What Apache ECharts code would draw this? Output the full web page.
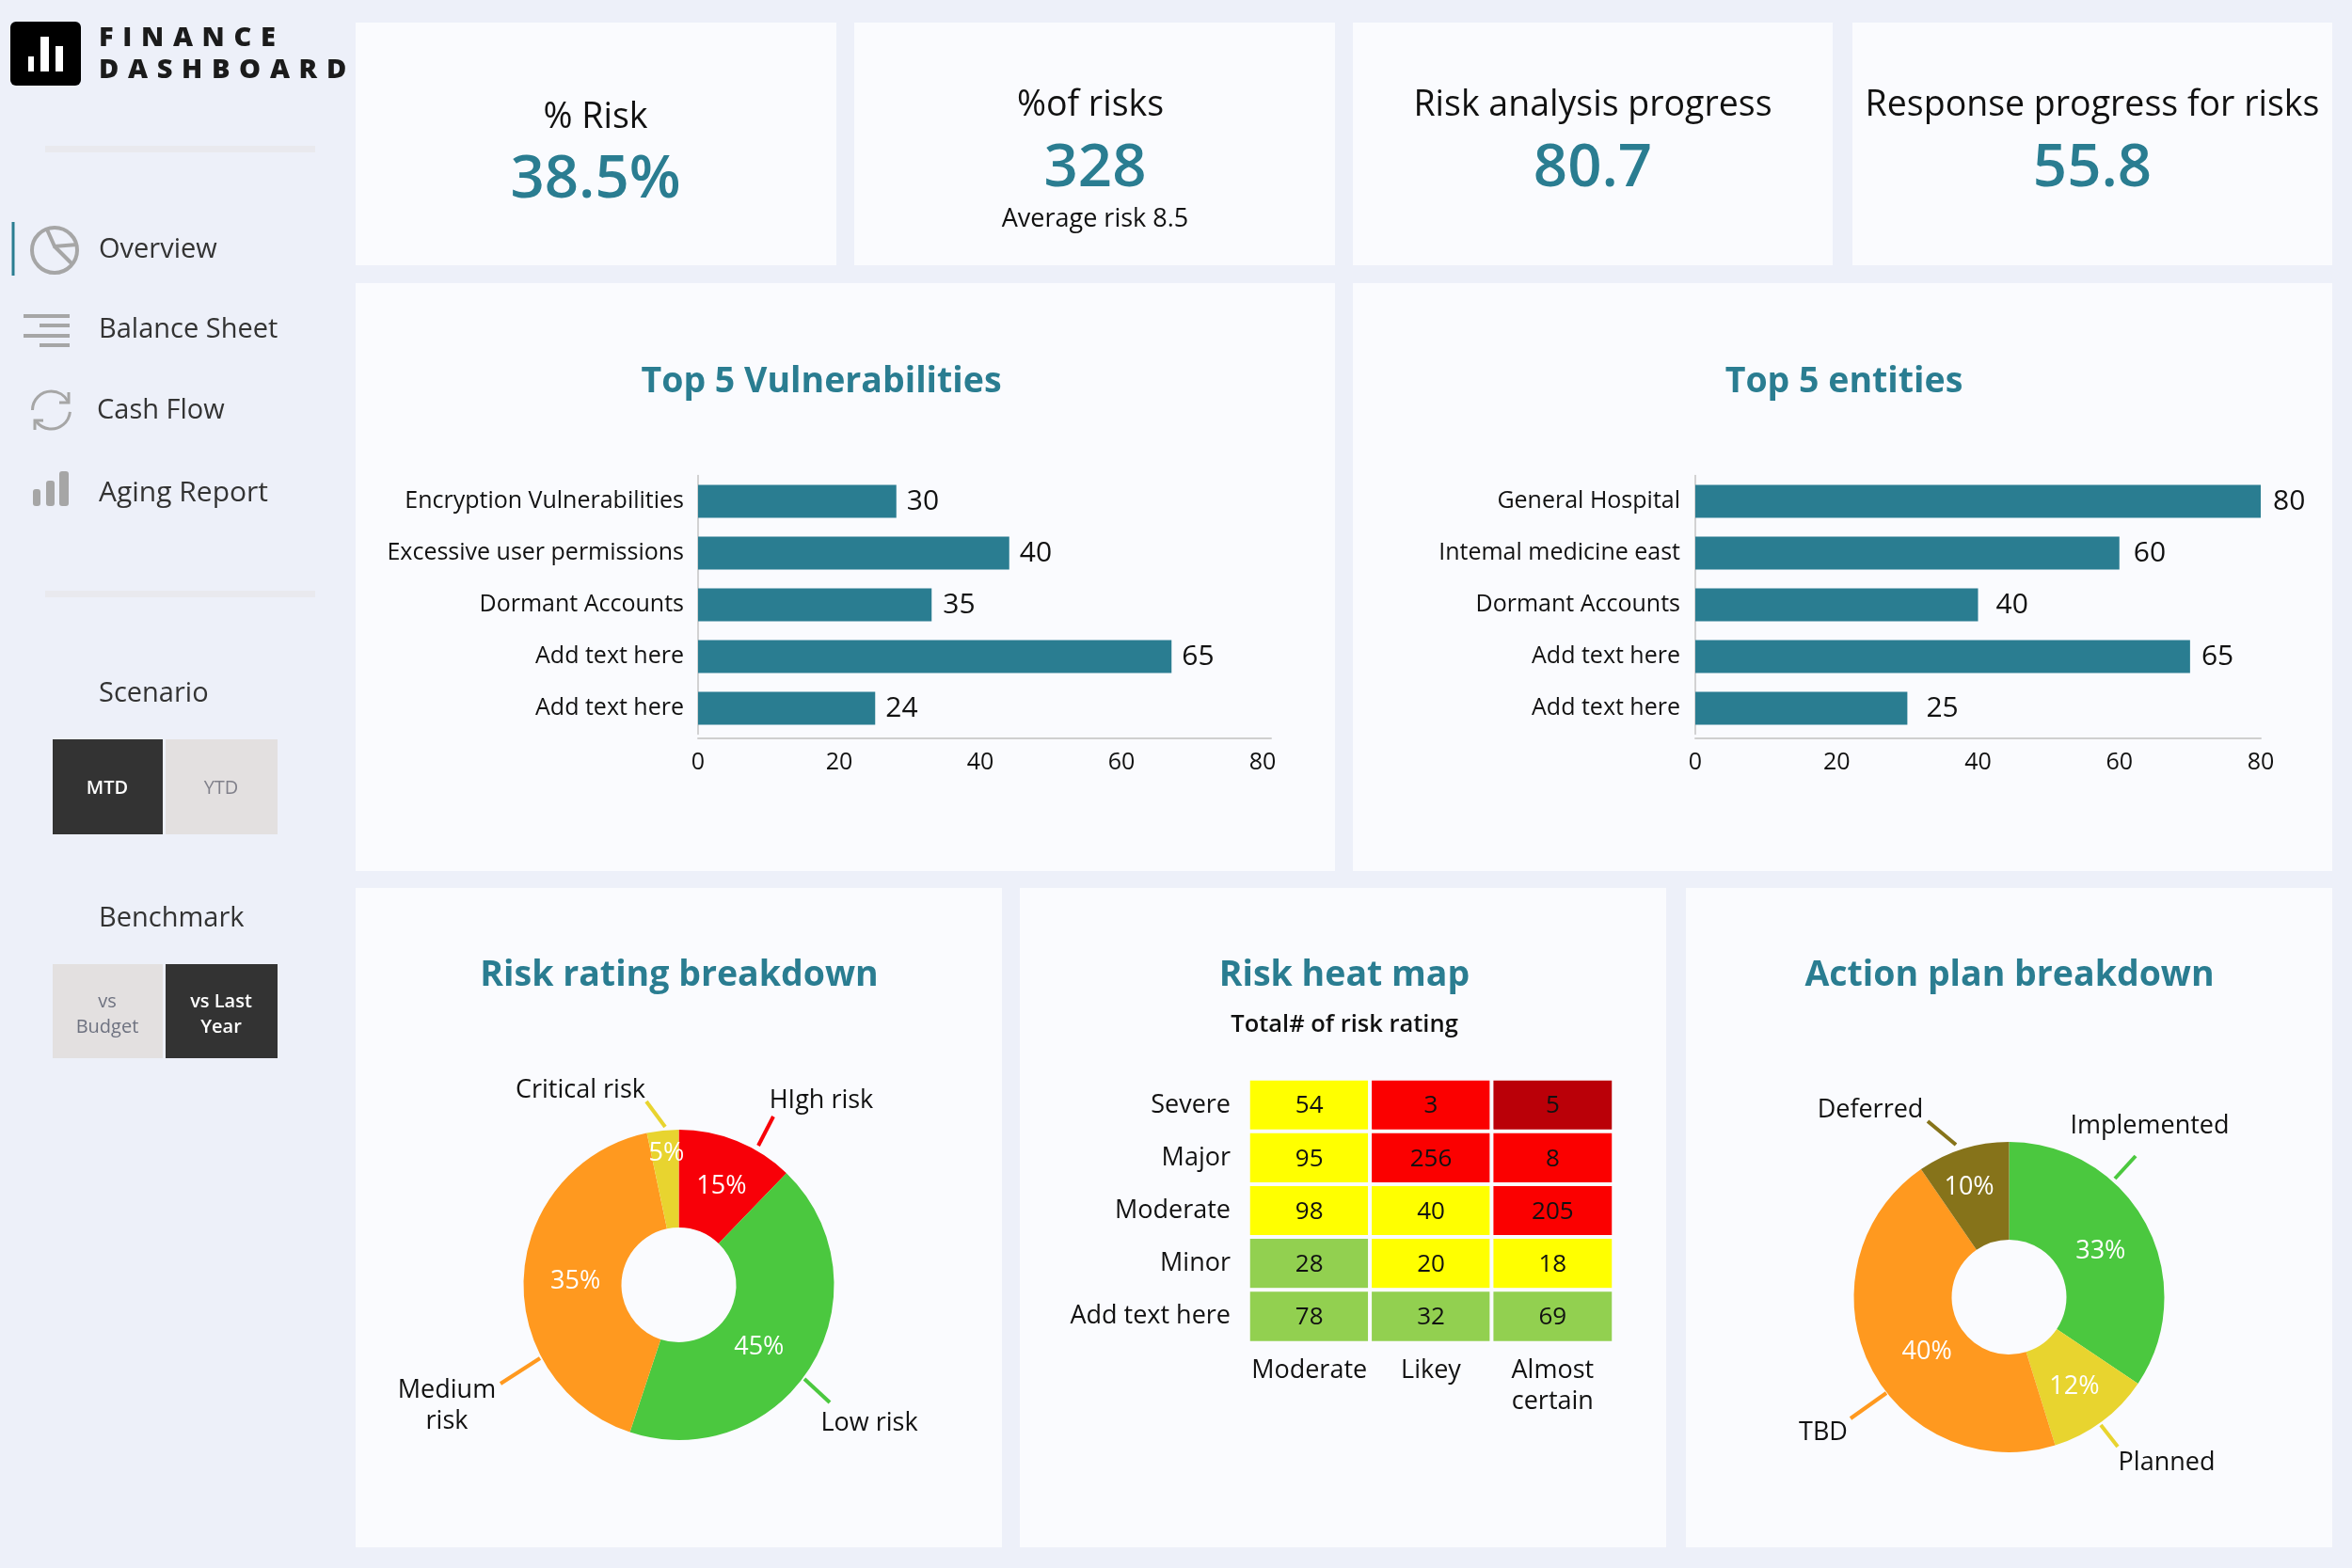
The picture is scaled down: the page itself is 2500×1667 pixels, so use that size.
<!DOCTYPE html>
<html><head><meta charset="utf-8"><title>Finance Dashboard</title>
<style>html,body{margin:0;padding:0;background:#EDF0F9}#c{width:2500px;height:1667px}</style>
<script src="https://cdn.jsdelivr.net/npm/echarts@6/dist/echarts.min.js"></script>
</head><body><div id="c"></div>
<script>
// ---- data ----
const vulnCategories = ['Encryption Vulnerabilities','Excessive user permissions','Dormant Accounts','Add text here','Add text here'];
const vulnBarLengths = [28.1,44.1,33.1,67.1,25.1];
const vulnLabels = [30,40,35,65,24];
const entityCategories = ['General Hospital','Intemal medicine east','Dormant Accounts','Add text here','Add text here'];
const entityBarLengths = [80,60,40,70,30];
const entityLabels = [80,60,40,65,25];
const axisTicks = [0,20,40,60,80];

const riskNames = ['HIgh risk','Low risk','Medium\nrisk','Critical risk'];
const riskShares = [12.2,42.9,41.6,3.3];
const riskLabels = ['15%','45%','35%','5%'];
const actionNames = ['Implemented','Planned','TBD','Deferred'];
const actionShares = [34.4,10.8,45.2,9.6];
const actionLabels = ['33%','12%','40%','10%'];

const heatImpact = ['Severe','Major','Moderate','Minor','Add text here'];
const heatLikelihood = ['Moderate','Likey','Almost\ncertain'];
const heatValues = [[54,3,5],[95,256,8],[98,40,205],[28,20,18],[78,32,69]];
const heatRatings = [[1,2,3],[1,2,2],[1,1,2],[0,1,1],[0,0,0]];

const kpiTitles = ['% Risk','%of risks','Risk analysis progress','Response progress for risks'];
const kpiValues = ['38.5%','328','80.7','55.8'];
const kpiNote = 'Average risk 8.5';
const menuItems = ['Overview','Balance Sheet','Cash Flow','Aging Report'];

// ---- style and layout ----
const FONT = '"Open Sans"', TEAL = '#2A7D91', PANEL = '#FAFBFE', INK = '#111111', SIDE = '#333333', ICON = '#A6A6A6';
const ratingColors = ['#92D050','#FFFF00','#FB0000','#BA0008'];
const riskColors = ['#F80008','#4BC83F','#FF991F','#E8D42F'];
const actionColors = ['#4BC83F','#E8D42F','#FF991F','#86731A'];
const panels = [[378,24,511,258],[908,24,511,258],[1438,24,510,258],[1969,24,510,258],
  [378,301,1041,625],[1438,301,1041,625],[378,944,687,701],[1084,944,687,701],[1792,944,687,701]];
const riskLabelSpots = [[873,1170],[924,1513],[475,1495],[617,1159]];
const riskLeaders = [[[806,1218],[822,1187]],[[855,1466],[882,1491]],[[574,1444],[532,1471]],[[707,1198],[687,1171]]];
const riskPctOffsets = [[2,3],[-14,6],[6,3],[-1,-24]];
const actionLabelSpots = [[2285,1197],[2303,1555],[1938,1523],[1988,1180]];
const actionLeaders = [[[2248,1253],[2270,1229]],[[2233,1515],[2251,1538]],[[2005,1481],[1967,1508]],[[2079,1217],[2049,1192]]];
const actionPctOffsets = [[-5,6],[0,2],[17,8],[-8,-6]];
const entityLabelGaps = [13,15,19,12,20];
const vulnLabelGaps = [11,11,12,11,11];

const g = [];
const rect = (x,y,w,h,fill,r) => g.push({type:'rect',silent:true,shape:{x,y,width:w,height:h,r:r||0},style:{fill}});
const line = (pts,w,col) => g.push({type:'polyline',silent:true,shape:{points:pts},style:{stroke:col||ICON,lineWidth:w,fill:null}});
const txt = (x,y,text,size,o) => g.push({type:'text',silent:true,z:5,style:Object.assign({x,y,text,fontFamily:FONT,fontSize:size,fontWeight:400,fill:INK,align:'center',verticalAlign:'middle',lineHeight:Math.round(size*1.3)},o||{})});

panels.forEach(p => rect(p[0],p[1],p[2],p[3],PANEL));

// KPI cards
const kpiX = [633,1159,1693,2224], kpiVX = [633,1164,1693,2224];
kpiTitles.forEach((t,i)=>{
  txt(kpiX[i], i===0?125:112, t, 37.5);
  txt(kpiVX[i], i===0?192:180, kpiValues[i], 63.5, {fill:TEAL,fontWeight:600});
});
txt(1164,233,kpiNote,27);

// sidebar
rect(11,23,75,68,'#000000',6);
rect(30,60,6,16,'#FFFFFF'); rect(43,39,9,37,'#FFFFFF'); rect(59,49,8,27,'#FFFFFF');
txt(105,41,'F\u2004I\u2004N\u2004A\u2004N\u2004C\u2004E',29,{align:'left',fontWeight:800,fill:'#1B1B1B'});
txt(105,75,'D\u2004A\u2004S\u2004H\u2004B\u2004O\u2004A\u2004R\u2004D',29,{align:'left',fontWeight:800,fill:'#1B1B1B'});
rect(48,155,287,7,'#E9E9EE'); rect(48,628,287,7,'#E9E9EE');
rect(12.5,236,3,57,TEAL);
const menuY = [266,351,437,524], menuX = [105,105,103,105];
const menuSizes = [29,29,29,30];
menuItems.forEach((m,i)=>txt(menuX[i],menuY[i],m,menuSizes[i],{align:'left',fill:SIDE}));
// icons
g.push({type:'circle',silent:true,shape:{cx:58,cy:266,r:24},style:{stroke:ICON,lineWidth:4,fill:null}});
line([[50,244],[58,262],[82,260]],4); line([[58,262],[77,281]],4);
line([[25,336],[74,336]],4); line([[42,346],[74,346]],4); line([[25,357],[74,357]],4); line([[42,367],[74,367]],4);
g.push({type:'arc',silent:true,shape:{cx:54.5,cy:436,r:20,startAngle:Math.PI,endAngle:1.85*Math.PI,clockwise:true},style:{stroke:ICON,lineWidth:3,fill:null}});
g.push({type:'arc',silent:true,shape:{cx:54.5,cy:436,r:20,startAngle:0.03*Math.PI,endAngle:0.8*Math.PI,clockwise:true},style:{stroke:ICON,lineWidth:3,fill:null}});
line([[73,417],[73,428],[63,428]],3); line([[37,457],[37,447],[46,447]],3);
rect(35,520,8,18,ICON,3); rect(49,511,9,27,ICON,3); rect(63,501,10,37,ICON,3);

txt(105,738,'Scenario',29,{align:'left',fill:SIDE});
txt(105,977,'Benchmark',29,{align:'left',fill:SIDE});
rect(56,786,117,101,'#333333'); rect(176,786,119,101,'#E3E0E0');
rect(56,1025,117,100,'#E3E0E0'); rect(176,1025,119,100,'#333333');
txt(114,838,'MTD',20,{fill:'#FFFFFF',fontWeight:600});
txt(235,838,'YTD',20,{fill:'#80808A'});
txt(114,1079,'vs\nBudget',20,{fill:'#6E7280',lineHeight:27});
txt(235,1079,'vs Last\nYear',20,{fill:'#FFFFFF',fontWeight:600,lineHeight:27});

// chart titles
const title = (text,cx,cy,size,col,w) => ({text,left:cx,top:cy,textAlign:'center',textVerticalAlign:'middle',
  textStyle:{fontFamily:FONT,fontSize:size,fontWeight:w||700,color:col||TEAL}});
const titles = [title('Top 5 Vulnerabilities',868,401,37.5),title('Top 5 entities',1955,401,37.5),
  title('Risk rating breakdown',717,1032,37.5),title('Risk heat map',1424,1032,37.5),
  title('Action plan breakdown',2131,1032,37.5),title('Total# of risk rating',1424,1085,25.5,'#111111',600)];

// axes and series
const grids = [
  {left:742,top:505.5,width:609,height:275},
  {left:1802,top:505.5,width:601,height:275},
  {left:1327,top:1147,width:388,height:280.5}
];
const valueAxis = (i,max)=>({gridIndex:i,type:'value',min:0,max,interval:20,position:'bottom',offset:4,splitLine:{show:false},axisTick:{show:false},
     axisLine:{show:true,onZero:false,lineStyle:{color:'#CFCFCF',width:2}},
     axisLabel:{fontFamily:FONT,fontSize:25,color:INK,margin:14,customValues:axisTicks}});
const barCat = (i,cats,margin)=>({gridIndex:i,type:'category',inverse:true,data:cats,axisTick:{show:false},
  axisLine:{show:true,onZero:false,lineStyle:{color:'#C4C4C4',width:1.5}},
  axisLabel:{fontFamily:FONT,fontSize:25,color:INK,margin}});
const barSeries = (i,vals,labels,gaps)=>({type:'bar',xAxisIndex:i,yAxisIndex:i,barWidth:35,silent:true,
  itemStyle:{color:TEAL},
  data:vals.map((v,k)=>({value:v,label:{formatter:String(labels[k]),distance:gaps[k]}})),
  label:{show:true,position:'right',fontFamily:FONT,fontSize:30,color:INK}});

const heatData = [];
heatValues.forEach((row,y)=>row.forEach((v,x)=>heatData.push({value:[x,y,v],
  itemStyle:{color:ratingColors[heatRatings[y][x]]}})));

const pieBase = (center,names,vals,colors,spots,leaders)=>({type:'pie',center,radius:[61,165],startAngle:90,silent:true,
  avoidLabelOverlap:false,
  data:names.map((n,k)=>({name:n,value:vals[k],itemStyle:{color:colors[k]},labelLine:{lineStyle:{color:colors[k]}}})),
  label:{show:true,position:'outside',formatter:'{b}',fontFamily:FONT,fontSize:27,color:INK,lineHeight:33,align:'center'},
  labelLine:{show:true,length:10,length2:0,lineStyle:{width:4}},
  labelLayout:p=>{const k=p.dataIndex;return {x:spots[k][0],y:spots[k][1],align:'center',verticalAlign:'middle',
     labelLinePoints:[leaders[k][0],leaders[k][1],leaders[k][1]]};}
});
const pieInner = (center,names,vals,labels,offsets)=>({type:'pie',center,radius:[61,165],startAngle:90,silent:true,z:3,
  itemStyle:{color:'transparent'},
  data:names.map((n,k)=>({name:n,value:vals[k],label:{formatter:labels[k]}})),
  label:{show:true,position:'inside',fontFamily:FONT,fontSize:27,color:'#FFFFFF'},labelLine:{show:false},
  labelLayout:p=>({dx:offsets[p.dataIndex][0],dy:offsets[p.dataIndex][1]})
});

const option = {
  animation:false,backgroundColor:'#EDF0F9',
  title:titles,grid:grids,graphic:{elements:g},
  xAxis:[valueAxis(0,81.2),valueAxis(1,80),
    {gridIndex:2,type:'category',data:heatLikelihood,position:'bottom',axisLine:{show:false},axisTick:{show:false},splitArea:{show:false},
     axisLabel:{fontFamily:FONT,fontSize:27,color:INK,margin:13,lineHeight:33,verticalAlign:'top',interval:0}}],
  yAxis:[barCat(0,vulnCategories,15),barCat(1,entityCategories,16),
    {gridIndex:2,type:'category',inverse:true,data:heatImpact,axisLine:{show:false},axisTick:{show:false},splitArea:{show:false},
     axisLabel:{fontFamily:FONT,fontSize:27,color:INK,margin:19,interval:0}}],
  series:[
    barSeries(0,vulnBarLengths,vulnLabels,vulnLabelGaps),
    barSeries(1,entityBarLengths,entityLabels,entityLabelGaps),
    {type:'heatmap',xAxisIndex:2,yAxisIndex:2,silent:true,data:heatData,
     itemStyle:{borderColor:PANEL,borderWidth:4},
     label:{show:true,formatter:p=>p.value[2],offset:[0,1],fontFamily:FONT,fontSize:26,color:'#111111'}},
    pieBase([721.5,1366],riskNames,riskShares,riskColors,riskLabelSpots,riskLeaders),
    pieInner([721.5,1366],riskNames,riskShares,riskLabels,riskPctOffsets),
    pieBase([2135.5,1379],actionNames,actionShares,actionColors,actionLabelSpots,actionLeaders),
    pieInner([2135.5,1379],actionNames,actionShares,actionLabels,actionPctOffsets)
  ]
};
const chart = echarts.init(document.getElementById('c'),null,{renderer:'canvas',width:2500,height:1667});
chart.setOption(option);
</script></body></html>
